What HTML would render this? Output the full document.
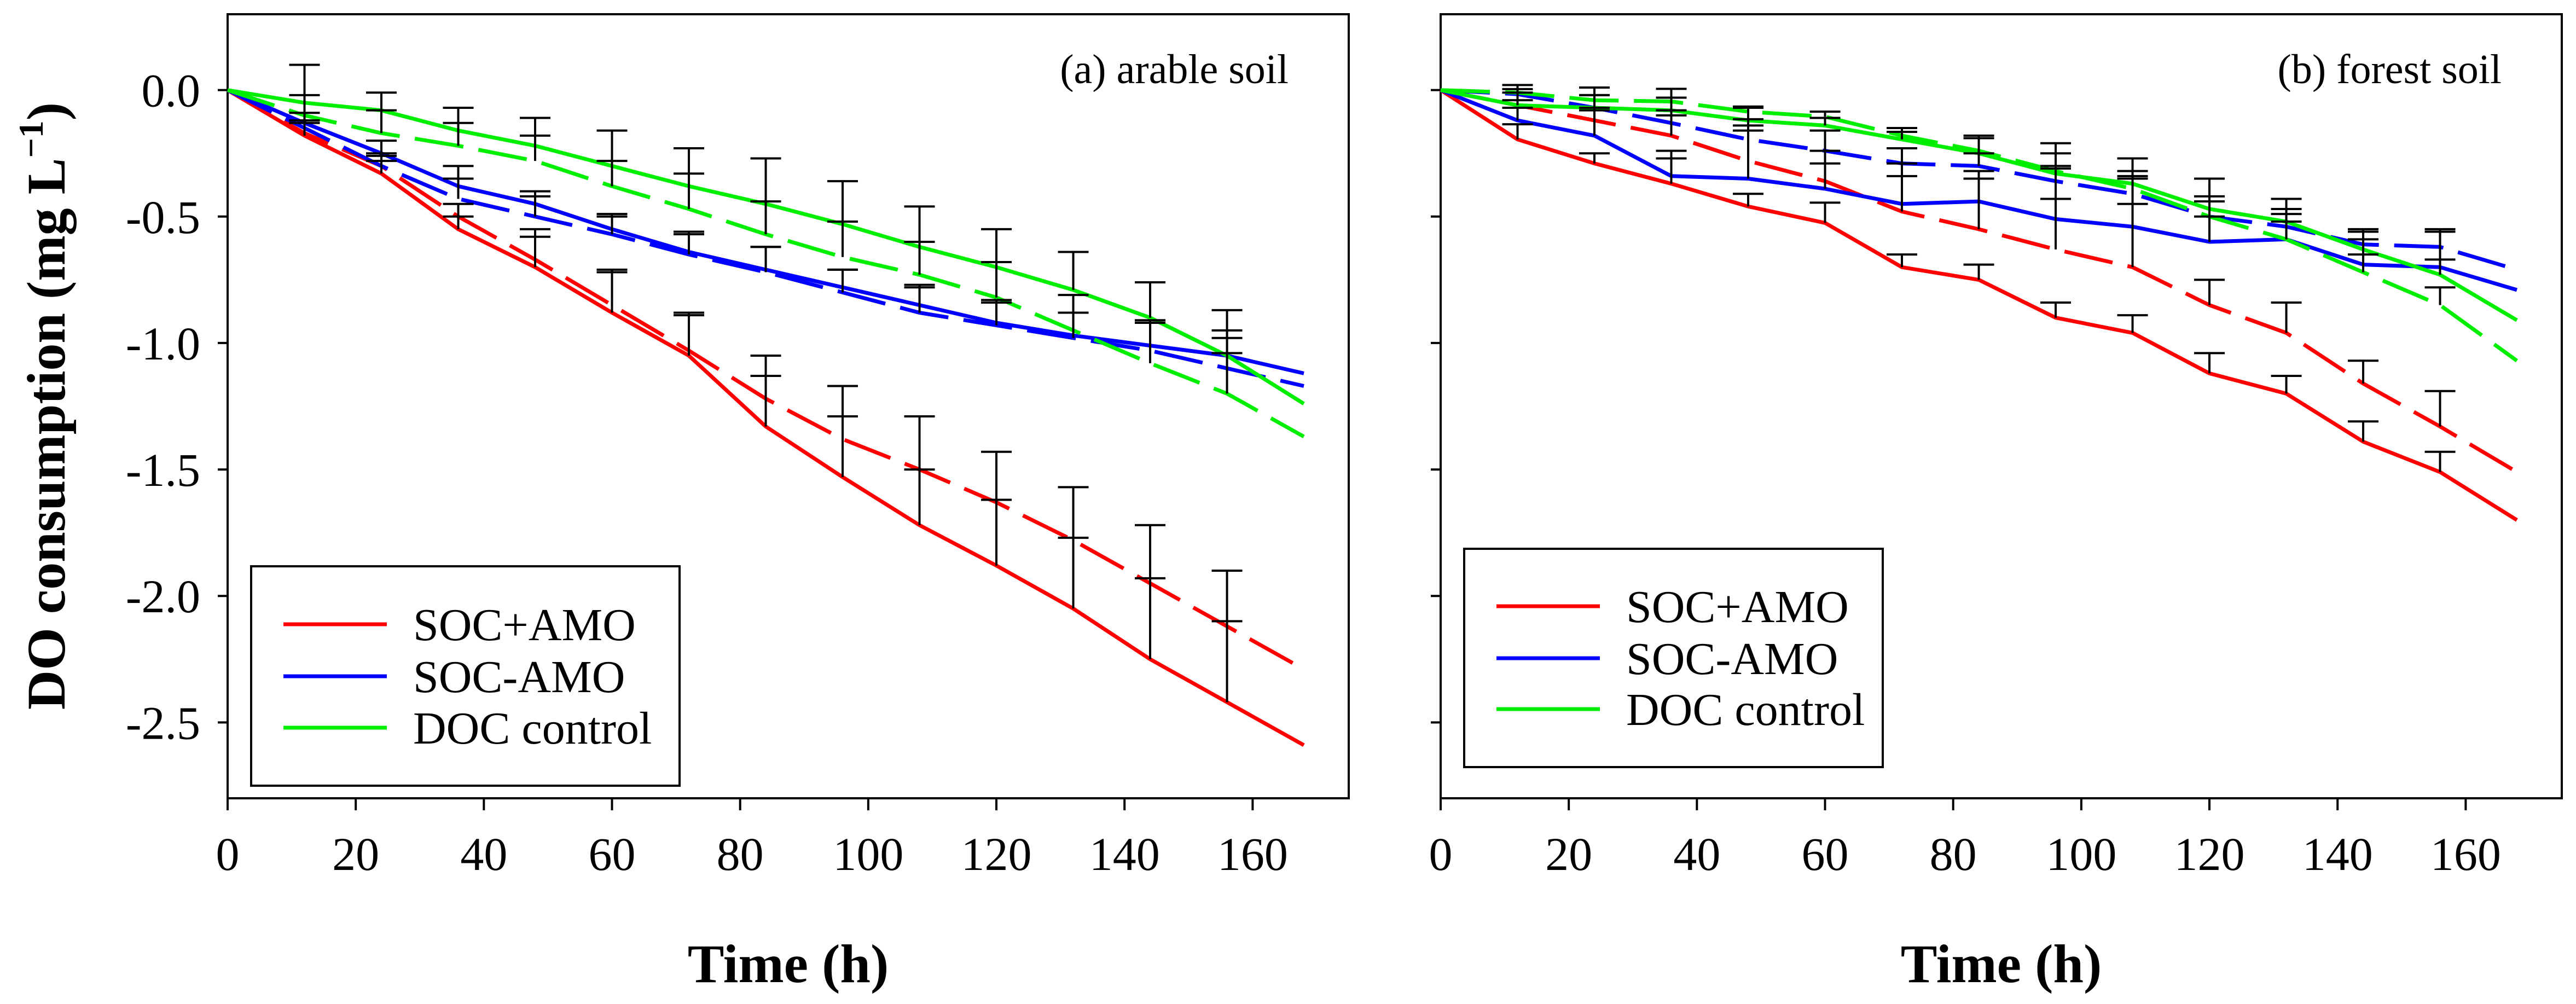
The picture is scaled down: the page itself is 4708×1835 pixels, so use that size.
<!DOCTYPE html>
<html><head><meta charset="utf-8"><style>
html,body{margin:0;padding:0;background:#fff;}
svg{display:block;}
svg text{font-family:"Liberation Serif","Times New Roman","Noto Serif CJK SC","DejaVu Serif",serif;}
</style></head><body>
<svg id="chart" width="4708" height="1835" viewBox="0 0 4708 1835" xmlns="http://www.w3.org/2000/svg"></svg>
<script>
const hours = [0,12,24,36,48,60,72,84,96,108,120,132,144,156,168];
const xTicks = [0,20,40,60,80,100,120,140,160];
const yTicks = [0,-0.5,-1.0,-1.5,-2.0,-2.5];
const yTickLabels = ["0.0","-0.5","-1.0","-1.5","-2.0","-2.5"];
const seriesNames = ["SOC+AMO","SOC-AMO","DOC control"];
// panel (a) arable soil
const aRedSolid   = [0,-0.18,-0.33,-0.55,-0.70,-0.88,-1.05,-1.33,-1.53,-1.72,-1.88,-2.05,-2.25,-2.42,-2.59];
const aRedDash    = [0,-0.17,-0.30,-0.50,-0.67,-0.85,-1.03,-1.22,-1.38,-1.50,-1.63,-1.78,-1.95,-2.12,-2.29];
const aBlueSolid  = [0,-0.13,-0.25,-0.38,-0.45,-0.55,-0.64,-0.71,-0.78,-0.85,-0.92,-0.97,-1.01,-1.05,-1.12];
const aBlueDash   = [0,-0.15,-0.30,-0.43,-0.50,-0.57,-0.65,-0.72,-0.80,-0.88,-0.93,-0.98,-1.03,-1.10,-1.17];
const aGreenSolid = [0,-0.05,-0.08,-0.16,-0.22,-0.30,-0.38,-0.45,-0.53,-0.62,-0.70,-0.79,-0.90,-1.05,-1.24];
const aGreenDash  = [0,-0.10,-0.17,-0.22,-0.28,-0.38,-0.47,-0.57,-0.66,-0.73,-0.82,-0.95,-1.08,-1.20,-1.37];
const aRedSolidErr   = [0,0.05,0.05,0.05,0.12,0.16,0.16,0.20,0.24,0.22,0.26,0.28,0.32,0.32,0];
const aRedDashErr    = [0,0.05,0.05,0.05,0.12,0.14,0.15,0.17,0.21,0.21,0.20,0.21,0.23,0.22,0];
const aBlueSolidErr  = [0,0.04,0.05,0.08,0.05,0.06,0.08,0.09,0.07,0.08,0.08,0.09,0.10,0.10,0];
const aBlueDashErr   = [0,0.03,0.04,0.08,0.08,0.07,0.08,0.10,0.09,0.10,0.10,0.10,0.12,0.12,0];
const aGreenSolidErr = [0,0.15,0.07,0.09,0.11,0.14,0.15,0.18,0.17,0.16,0.15,0.15,0.14,0.18,0];
const aGreenDashErr  = [0,0.08,0.09,0.09,0.10,0.10,0.14,0.13,0.14,0.13,0.14,0.14,0.16,0.16,0];
// panel (b) forest soil
const bRedSolid   = [0,-0.195,-0.29,-0.37,-0.46,-0.525,-0.70,-0.75,-0.90,-0.96,-1.12,-1.20,-1.39,-1.51,-1.70];
const bRedDash    = [0,-0.06,-0.12,-0.18,-0.28,-0.36,-0.48,-0.55,-0.63,-0.70,-0.85,-0.96,-1.16,-1.33,-1.51];
const bBlueSolid  = [0,-0.12,-0.18,-0.34,-0.35,-0.39,-0.45,-0.44,-0.51,-0.54,-0.60,-0.59,-0.69,-0.70,-0.79];
const bBlueDash   = [0,-0.016,-0.07,-0.13,-0.195,-0.24,-0.29,-0.30,-0.36,-0.41,-0.50,-0.54,-0.61,-0.62,-0.71];
const bGreenSolid = [0,-0.06,-0.07,-0.08,-0.12,-0.14,-0.195,-0.25,-0.33,-0.37,-0.47,-0.52,-0.63,-0.73,-0.91];
const bGreenDash  = [0,-0.01,-0.04,-0.045,-0.085,-0.105,-0.18,-0.24,-0.32,-0.39,-0.50,-0.59,-0.72,-0.85,-1.07];
const bRedSolidErr   = [0,0.06,0.04,0.10,0.05,0.08,0.05,0.06,0.06,0.07,0.08,0.07,0.08,0.08,0];
const bRedDashErr    = [0,0.02,0.05,0.10,0.12,0.12,0.14,0.20,0.20,0.25,0.10,0.12,0.09,0.14,0];
const bBlueSolidErr  = [0,0.05,0.10,0.10,0.21,0.10,0.16,0.12,0.20,0.20,0.10,0.10,0.10,0.15,0];
const bBlueDashErr   = [0,0.02,0.05,0.03,0.08,0.08,0.06,0.05,0.06,0.06,0.06,0.07,0.06,0.06,0];
const bGreenSolidErr = [0,0.05,0.05,0.05,0.05,0.03,0.03,0.07,0.12,0.10,0.12,0.09,0.07,0.06,0];
const bGreenDashErr  = [0,0.03,0.05,0.05,0.02,0.02,0.03,0.05,0.07,0.07,0.08,0.07,0.07,0.07,0];

const NS="http://www.w3.org/2000/svg";
const svg=document.getElementById('chart');
function mk(tag,attrs,parent){const e=document.createElementNS(NS,tag);for(const k in attrs)e.setAttribute(k,attrs[k]);(parent||svg).appendChild(e);return e;}

const Y0=26, Y1=1459, YMAX=0.3, YMIN=-2.8;
const XMAX=175;
function yScale(v){return Y0+(YMAX-v)/(YMAX-YMIN)*(Y1-Y0);}

function panel(left,right,label,key,series,showYLabels,legendBox,legendYs){
  const g=mk('g',{});
  
  
  const xs=v=>left+v/XMAX*(right-left);
  const frame=mk('rect',{x:left,y:Y0,width:right-left,height:Y1-Y0,fill:'none',stroke:'#000','stroke-width':4},g);
  
  
  xTicks.forEach(t=>{
    const l=mk('line',{x1:xs(t),x2:xs(t),y1:Y1,y2:Y1+22,stroke:'#000','stroke-width':4},g);
    
    
    const tx=mk('text',{x:xs(t),y:1590,'font-size':86,'text-anchor':'middle'},g);
    tx.textContent=t;
    
    
  });
  yTicks.forEach((t,i)=>{
    const l=mk('line',{x1:left-18,x2:left,y1:yScale(t),y2:yScale(t),stroke:'#000','stroke-width':4},g);
    
    
    if(showYLabels){
      const tx=mk('text',{x:left-50,y:yScale(t)+30,'font-size':86,'text-anchor':'end'},g);
      tx.textContent=yTickLabels[i];
      
      
    }
  });
  series.forEach(s=>{
    let d='';
    s.vals.forEach((v,i)=>{d+=(i?'L':'M')+xs(hours[i]).toFixed(1)+','+yScale(v).toFixed(1);});
    const p=mk('path',{d:d,fill:'none',stroke:s.color,'stroke-width':7,'stroke-linejoin':'round'},g);
    if(s.dash)p.setAttribute('stroke-dasharray','90,28');
    
    
  });
  series.forEach(s=>{
    s.vals.forEach((v,i)=>{
      const e=s.err[i]; if(!e)return;
      const x=xs(hours[i]), ya=yScale(v), yb=yScale(v+e);
      const eb=mk('path',{d:`M${x},${ya}L${x},${yb}M${x-28},${yb}L${x+28},${yb}`,stroke:'#000','stroke-width':4,fill:'none'},g);
      
      
    });
  });
  const pl=mk('text',{x:right-110,y:152,'font-size':76,'text-anchor':'end'},g);
  pl.textContent=label;
  
  
  const lb=mk('rect',{x:legendBox[0],y:legendBox[1],width:legendBox[2],height:legendBox[3],fill:'#fff',stroke:'#000','stroke-width':4},g);
  
  
  const cols=['#ff0000','#0000ff','#00ee00'];
  seriesNames.forEach((n,i)=>{
    const ly=legendYs[i];
    const ll=mk('line',{x1:legendBox[0]+59,x2:legendBox[0]+248,y1:ly,y2:ly,stroke:cols[i],'stroke-width':7},g);
    
    
    const lt=mk('text',{x:legendBox[0]+296,y:ly+29,'font-size':84},g);
    lt.textContent=n;
    
    
  });
  const xt=mk('text',{x:(left+right)/2,y:1795,'font-size':100,'font-weight':'bold','text-anchor':'middle'},g);
  xt.textContent='Time (h)';
  
  
}

panel(416,2465,'(a) arable soil','a',[
  {vals:aRedSolid,err:aRedSolidErr,color:'#ff0000',dash:false,name:'arable-soc-amo-line'},
  {vals:aRedDash,err:aRedDashErr,color:'#ff0000',dash:true,name:'arable-soc-amo-dashed-line'},
  {vals:aBlueSolid,err:aBlueSolidErr,color:'#0000ff',dash:false,name:'arable-soc-no-amo-line'},
  {vals:aBlueDash,err:aBlueDashErr,color:'#0000ff',dash:true,name:'arable-soc-no-amo-dashed-line'},
  {vals:aGreenSolid,err:aGreenSolidErr,color:'#00ee00',dash:false,name:'arable-doc-control-line'},
  {vals:aGreenDash,err:aGreenDashErr,color:'#00ee00',dash:true,name:'arable-doc-control-dashed-line'}
],true,[459,1035,783,401],[1141,1236,1330]);

panel(2633,4682,'(b) forest soil','b',[
  {vals:bRedSolid,err:bRedSolidErr,color:'#ff0000',dash:false,name:'forest-soc-amo-line'},
  {vals:bRedDash,err:bRedDashErr,color:'#ff0000',dash:true,name:'forest-soc-amo-dashed-line'},
  {vals:bBlueSolid,err:bBlueSolidErr,color:'#0000ff',dash:false,name:'forest-soc-no-amo-line'},
  {vals:bBlueDash,err:bBlueDashErr,color:'#0000ff',dash:true,name:'forest-soc-no-amo-dashed-line'},
  {vals:bGreenSolid,err:bGreenSolidErr,color:'#00ee00',dash:false,name:'forest-doc-control-line'},
  {vals:bGreenDash,err:bGreenDashErr,color:'#00ee00',dash:true,name:'forest-doc-control-dashed-line'}
],false,[2676,1003,765,399],[1108,1203,1296]);

const yt=mk('text',{x:0,y:0,'font-size':100,'font-weight':'bold','text-anchor':'middle',transform:'translate(118,742) rotate(-90)'});
yt.innerHTML='DO consumption (mg L<tspan dy="-40" font-size="64">−1</tspan><tspan dy="40">)</tspan>';


</script>
</body></html>
